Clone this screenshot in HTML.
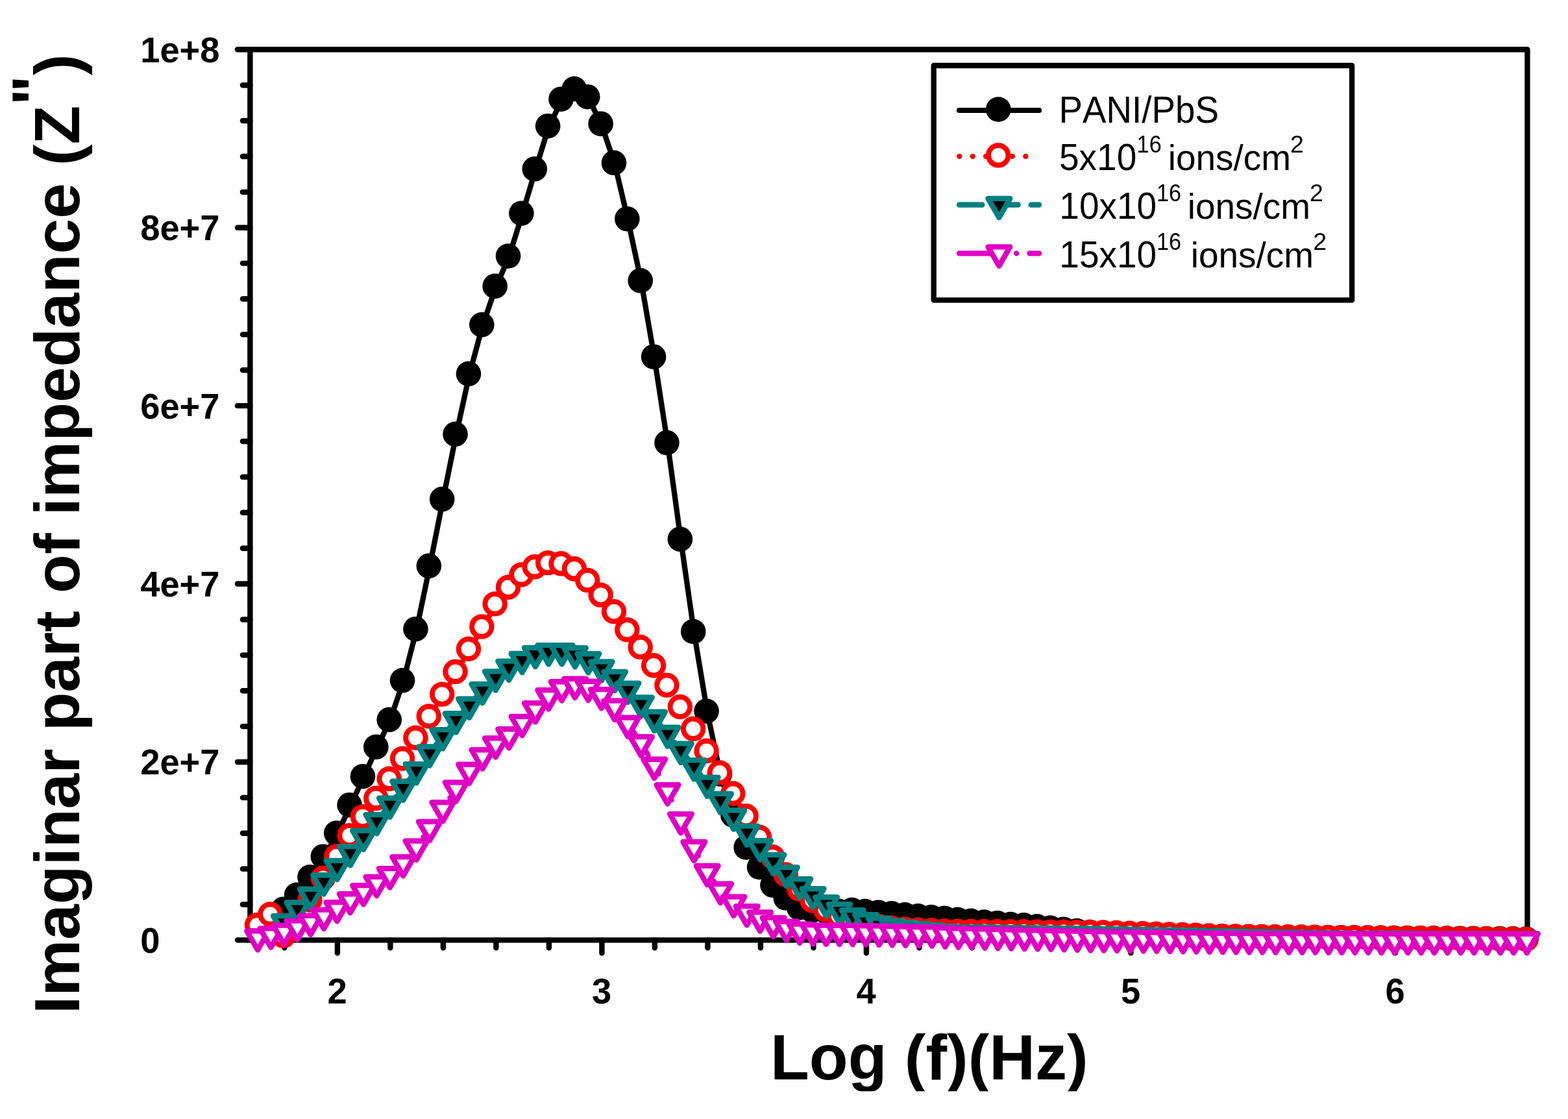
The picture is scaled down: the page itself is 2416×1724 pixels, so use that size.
<!DOCTYPE html>
<html lang="en">
<head>
<meta charset="utf-8">
<title>Imaginary part of impedance vs Log (f)</title>
<style>html,body{margin:0;padding:0;background:#fff}text{font-kerning:none;font-variant-ligatures:none;white-space:pre}body{width:2416px;height:1724px;overflow:hidden}svg{display:block}</style>
</head>
<body>
<svg width="2416" height="1724" viewBox="0 0 2416 1724" role="img" aria-label="Imaginary part of impedance versus Log (f)(Hz)">
<rect x="0" y="0" width="2416" height="1724" fill="#fff"/>
<g fill="none" stroke="#000" stroke-width="8.4" stroke-linecap="round" stroke-linejoin="round">
<path d="M385.4 76.3H2353.4V1448.4H385.4Z"/>
<path d="M365.9 1448.4H385.4M373.9 1393.52H385.4M373.9 1338.63H385.4M373.9 1283.75H385.4M373.9 1228.86H385.4M365.9 1173.98H385.4M373.9 1119.1H385.4M373.9 1064.21H385.4M373.9 1009.33H385.4M373.9 954.44H385.4M365.9 899.56H385.4M373.9 844.68H385.4M373.9 789.79H385.4M373.9 734.91H385.4M373.9 680.02H385.4M365.9 625.14H385.4M373.9 570.26H385.4M373.9 515.37H385.4M373.9 460.49H385.4M373.9 405.6H385.4M365.9 350.72H385.4M373.9 295.84H385.4M373.9 240.95H385.4M373.9 186.07H385.4M373.9 131.18H385.4M365.9 76.3H385.4M438.4 1448.4V1460.4M519.9 1448.4V1468.4M601.4 1448.4V1460.4M682.9 1448.4V1460.4M764.4 1448.4V1460.4M845.9 1448.4V1460.4M927.4 1448.4V1468.4M1008.9 1448.4V1460.4M1090.4 1448.4V1460.4M1171.9 1448.4V1460.4M1253.4 1448.4V1460.4M1334.9 1448.4V1468.4M1416.4 1448.4V1460.4M1497.9 1448.4V1460.4M1579.4 1448.4V1460.4M1660.9 1448.4V1460.4M1742.4 1448.4V1468.4M1823.9 1448.4V1460.4M1905.4 1448.4V1460.4M1986.9 1448.4V1460.4M2068.4 1448.4V1460.4M2149.9 1448.4V1468.4M2231.4 1448.4V1460.4M2312.9 1448.4V1460.4"/>
</g>
<g font-family="'Liberation Sans', Arial, Helvetica, sans-serif" fill="#000">
<text transform="translate(216.2 1467.8) scale(1.0 1.02)" font-size="54.3px" font-weight="bold">0</text>
<text transform="translate(216.2 1193.38) scale(1.0 1.02)" font-size="54.3px" font-weight="bold">2e+7</text>
<text transform="translate(216.2 918.96) scale(1.0 1.02)" font-size="54.3px" font-weight="bold">4e+7</text>
<text transform="translate(216.2 644.54) scale(1.0 1.02)" font-size="54.3px" font-weight="bold">6e+7</text>
<text transform="translate(216.2 370.12) scale(1.0 1.02)" font-size="54.3px" font-weight="bold">8e+7</text>
<text transform="translate(216.2 95.7) scale(1.0 1.02)" font-size="54.3px" font-weight="bold">1e+8</text>
<text transform="translate(519.6 1545.9) scale(1.0 1.02)" font-size="54.3px" font-weight="bold" text-anchor="middle">2</text>
<text transform="translate(927.1 1545.9) scale(1.0 1.02)" font-size="54.3px" font-weight="bold" text-anchor="middle">3</text>
<text transform="translate(1334.6 1545.9) scale(1.0 1.02)" font-size="54.3px" font-weight="bold" text-anchor="middle">4</text>
<text transform="translate(1742.1 1545.9) scale(1.0 1.02)" font-size="54.3px" font-weight="bold" text-anchor="middle">5</text>
<text transform="translate(2149.6 1545.9) scale(1.0 1.02)" font-size="54.3px" font-weight="bold" text-anchor="middle">6</text>
</g>
<clipPath id="cx"><rect x="1100" y="1560" width="700" height="121.2"/></clipPath>
<g font-family="'Liberation Sans', Arial, Helvetica, sans-serif" font-weight="bold" font-size="98px" fill="#000">
<g clip-path="url(#cx)"><text transform="translate(1187 1663.2) scale(1 1.01)">Log (f)(Hz)</text></g>
<text transform="translate(122.1 1562) rotate(-90)"><tspan>Imaginar part of impedance (Z</tspan><tspan dy="-35.4">&quot;</tspan><tspan dy="35.4">)</tspan></text>
</g>
<path d="M437.94 1402.2L458.31 1380.4L478.68 1352.9L499.05 1321.2L519.42 1285.1L539.79 1241.7L560.16 1197.7L580.53 1152.3L600.9 1110.3L621.27 1049.8L641.64 970.7L662.01 873.3L682.38 770.6L702.75 670.3L723.12 577.4L743.49 501.9L763.86 442.4L784.23 396L804.6 330.2L824.97 261.8L845.34 195.7L865.71 154.2L886.08 138.4L906.45 150.7L926.82 192.2L947.19 252.3L967.56 338.7L987.93 433.8L1008.3 551.2L1028.67 683.6L1049.04 832.2L1069.41 974.5L1089.78 1097.1L1110.15 1194L1130.52 1257.2L1150.89 1307L1171.26 1337.5L1191.63 1365.1L1212 1385L1232.37 1400L1252.74 1404L1273.11 1405L1293.48 1405.3L1313.85 1403.6L1334.22 1405.6L1354.59 1407.2L1374.96 1408.9L1395.33 1410.8L1415.7 1412.8L1436.07 1414.5L1456.44 1416.2L1476.81 1418.3L1497.18 1420.4L1517.55 1422L1537.92 1423.7L1558.29 1425.5L1578.66 1426.9L1599.03 1428.9L1619.4 1431.1L1639.77 1433.2L1660.14 1435.6L1680.51 1437.6L1700.88 1439.1L1721.25 1440.1L1741.62 1441.1L1761.99 1441.65L1782.36 1442.2L1802.73 1442.75L1823.1 1443.3L1843.47 1443.6L1863.84 1443.9L1884.21 1444.2L1904.58 1444.5L1924.95 1444.8L1945.32 1445.1L1965.69 1445.25L1986.06 1445.4L2006.43 1445.55L2026.8 1445.7L2047.17 1445.85L2067.54 1446L2087.91 1446.15L2108.28 1446.3L2128.65 1446.4L2149.02 1446.5L2169.39 1446.6L2189.76 1446.7L2210.13 1446.86L2230.5 1447.03L2250.87 1447.19L2271.24 1447.35L2291.61 1447.51L2311.98 1447.67L2332.35 1447.84L2352.72 1448" fill="none" stroke="#000000" stroke-width="8.3" stroke-linecap="round" stroke-linejoin="round"/>
<g fill="#000000"><circle cx="436.74" cy="1400.7" r="19.3"/><circle cx="457.11" cy="1378.9" r="19.3"/><circle cx="477.48" cy="1351.4" r="19.3"/><circle cx="497.85" cy="1319.7" r="19.3"/><circle cx="518.22" cy="1283.6" r="19.3"/><circle cx="538.59" cy="1240.2" r="19.3"/><circle cx="558.96" cy="1196.2" r="19.3"/><circle cx="579.33" cy="1150.8" r="19.3"/><circle cx="599.7" cy="1108.8" r="19.3"/><circle cx="620.07" cy="1048.3" r="19.3"/><circle cx="640.44" cy="969.2" r="19.3"/><circle cx="660.81" cy="871.8" r="19.3"/><circle cx="681.18" cy="769.1" r="19.3"/><circle cx="701.55" cy="668.8" r="19.3"/><circle cx="721.92" cy="575.9" r="19.3"/><circle cx="742.29" cy="500.4" r="19.3"/><circle cx="762.66" cy="440.9" r="19.3"/><circle cx="783.03" cy="394.5" r="19.3"/><circle cx="803.4" cy="328.7" r="19.3"/><circle cx="823.77" cy="260.3" r="19.3"/><circle cx="844.14" cy="194.2" r="19.3"/><circle cx="864.51" cy="152.7" r="19.3"/><circle cx="884.88" cy="136.9" r="19.3"/><circle cx="905.25" cy="149.2" r="19.3"/><circle cx="925.62" cy="190.7" r="19.3"/><circle cx="945.99" cy="250.8" r="19.3"/><circle cx="966.36" cy="337.2" r="19.3"/><circle cx="986.73" cy="432.3" r="19.3"/><circle cx="1007.1" cy="549.7" r="19.3"/><circle cx="1027.47" cy="682.1" r="19.3"/><circle cx="1047.84" cy="830.7" r="19.3"/><circle cx="1068.21" cy="973" r="19.3"/><circle cx="1088.58" cy="1095.6" r="19.3"/><circle cx="1108.95" cy="1192.5" r="19.3"/><circle cx="1129.32" cy="1255.7" r="19.3"/><circle cx="1149.69" cy="1305.5" r="19.3"/><circle cx="1170.06" cy="1336" r="19.3"/><circle cx="1190.43" cy="1363.6" r="19.3"/><circle cx="1210.8" cy="1383.5" r="19.3"/><circle cx="1231.17" cy="1398.5" r="19.3"/><circle cx="1251.54" cy="1402.5" r="19.3"/><circle cx="1271.91" cy="1403.5" r="19.3"/><circle cx="1292.28" cy="1403.8" r="19.3"/><circle cx="1312.65" cy="1402.1" r="19.3"/><circle cx="1333.02" cy="1404.1" r="19.3"/><circle cx="1353.39" cy="1405.7" r="19.3"/><circle cx="1373.76" cy="1407.4" r="19.3"/><circle cx="1394.13" cy="1409.3" r="19.3"/><circle cx="1414.5" cy="1411.3" r="19.3"/><circle cx="1434.87" cy="1413" r="19.3"/><circle cx="1455.24" cy="1414.7" r="19.3"/><circle cx="1475.61" cy="1416.8" r="19.3"/><circle cx="1495.98" cy="1418.9" r="19.3"/><circle cx="1516.35" cy="1420.5" r="19.3"/><circle cx="1536.72" cy="1422.2" r="19.3"/><circle cx="1557.09" cy="1424" r="19.3"/><circle cx="1577.46" cy="1425.4" r="19.3"/><circle cx="1597.83" cy="1427.4" r="19.3"/><circle cx="1618.2" cy="1429.6" r="19.3"/><circle cx="1638.57" cy="1431.7" r="19.3"/><circle cx="1658.94" cy="1434.1" r="19.3"/><circle cx="1679.31" cy="1436.1" r="19.3"/><circle cx="1699.68" cy="1437.6" r="19.3"/><circle cx="1720.05" cy="1438.6" r="19.3"/><circle cx="1740.42" cy="1439.6" r="19.3"/><circle cx="1760.79" cy="1440.15" r="19.3"/><circle cx="1781.16" cy="1440.7" r="19.3"/><circle cx="1801.53" cy="1441.25" r="19.3"/><circle cx="1821.9" cy="1441.8" r="19.3"/><circle cx="1842.27" cy="1442.1" r="19.3"/><circle cx="1862.64" cy="1442.4" r="19.3"/><circle cx="1883.01" cy="1442.7" r="19.3"/><circle cx="1903.38" cy="1443" r="19.3"/><circle cx="1923.75" cy="1443.3" r="19.3"/><circle cx="1944.12" cy="1443.6" r="19.3"/><circle cx="1964.49" cy="1443.75" r="19.3"/><circle cx="1984.86" cy="1443.9" r="19.3"/><circle cx="2005.23" cy="1444.05" r="19.3"/><circle cx="2025.6" cy="1444.2" r="19.3"/><circle cx="2045.97" cy="1444.35" r="19.3"/><circle cx="2066.34" cy="1444.5" r="19.3"/><circle cx="2086.71" cy="1444.65" r="19.3"/><circle cx="2107.08" cy="1444.8" r="19.3"/><circle cx="2127.45" cy="1444.9" r="19.3"/><circle cx="2147.82" cy="1445" r="19.3"/><circle cx="2168.19" cy="1445.1" r="19.3"/><circle cx="2188.56" cy="1445.2" r="19.3"/><circle cx="2208.93" cy="1445.36" r="19.3"/><circle cx="2229.3" cy="1445.53" r="19.3"/><circle cx="2249.67" cy="1445.69" r="19.3"/><circle cx="2270.04" cy="1445.85" r="19.3"/><circle cx="2290.41" cy="1446.01" r="19.3"/><circle cx="2310.78" cy="1446.17" r="19.3"/><circle cx="2331.15" cy="1446.34" r="19.3"/><circle cx="2351.52" cy="1446.5" r="19.3"/></g>
<path d="M397.2 1426.8L417.57 1410L437.94 1443.2L458.31 1421.5L478.68 1388L499.05 1354.3L519.42 1320.9L539.79 1288.6L560.16 1259.6L580.53 1231.3L600.9 1201.3L621.27 1170.1L641.64 1138.2L662.01 1105L682.38 1071.1L702.75 1036.3L723.12 1001.3L743.49 966.9L763.86 931.9L784.23 906.2L804.6 886.9L824.97 874.8L845.34 868.6L865.71 869.8L886.08 877.8L906.45 895.4L926.82 918.1L947.19 943.6L967.56 971.7L987.93 998.4L1008.3 1026.7L1028.67 1057.1L1049.04 1090.5L1069.41 1124.3L1089.78 1158.3L1110.15 1191.9L1130.52 1224L1150.89 1258.8L1171.26 1291.3L1191.63 1321.7L1212 1348.9L1232.37 1371.1L1252.74 1388.8L1273.11 1403.1L1293.48 1413L1313.85 1420L1334.22 1425L1354.59 1428.5L1374.96 1431.3L1395.33 1432.6L1415.7 1433.9L1436.07 1434.8L1456.44 1435.7L1476.81 1436.1L1497.18 1436.24L1517.55 1436.38L1537.92 1436.52L1558.29 1436.66L1578.66 1436.8L1599.03 1436.94L1619.4 1437.08L1639.77 1437.22L1660.14 1437.36L1680.51 1437.5L1700.88 1437.9L1721.25 1438.5L1741.62 1439.1L1761.99 1439.7L1782.36 1440.3L1802.73 1440.9L1823.1 1441.5L1843.47 1442.2L1863.84 1442.9L1884.21 1443.6L1904.58 1444L1924.95 1444.2L1945.32 1444.4L1965.69 1444.6L1986.06 1444.8L2006.43 1445L2026.8 1445.2L2047.17 1445.4L2067.54 1445.6L2087.91 1445.8L2108.28 1446L2128.65 1446.2L2149.02 1446.4L2169.39 1446.6L2189.76 1446.8L2210.13 1447L2230.5 1447.2L2250.87 1447.4L2271.24 1447.6L2291.61 1447.8L2311.98 1448L2332.35 1448.2L2352.72 1448.4" fill="none" stroke="#ff0000" stroke-width="8.3" stroke-linecap="round" stroke-linejoin="round" stroke-dasharray="0.01 20.4"/>
<g fill="#fff" stroke="#ff0000" stroke-width="7.9"><circle cx="396" cy="1425.3" r="15.25"/><circle cx="416.37" cy="1408.5" r="15.25"/><circle cx="436.74" cy="1441.7" r="15.25"/><circle cx="457.11" cy="1420" r="15.25"/><circle cx="477.48" cy="1386.5" r="15.25"/><circle cx="497.85" cy="1352.8" r="15.25"/><circle cx="518.22" cy="1319.4" r="15.25"/><circle cx="538.59" cy="1287.1" r="15.25"/><circle cx="558.96" cy="1258.1" r="15.25"/><circle cx="579.33" cy="1229.8" r="15.25"/><circle cx="599.7" cy="1199.8" r="15.25"/><circle cx="620.07" cy="1168.6" r="15.25"/><circle cx="640.44" cy="1136.7" r="15.25"/><circle cx="660.81" cy="1103.5" r="15.25"/><circle cx="681.18" cy="1069.6" r="15.25"/><circle cx="701.55" cy="1034.8" r="15.25"/><circle cx="721.92" cy="999.8" r="15.25"/><circle cx="742.29" cy="965.4" r="15.25"/><circle cx="762.66" cy="930.4" r="15.25"/><circle cx="783.03" cy="904.7" r="15.25"/><circle cx="803.4" cy="885.4" r="15.25"/><circle cx="823.77" cy="873.3" r="15.25"/><circle cx="844.14" cy="867.1" r="15.25"/><circle cx="864.51" cy="868.3" r="15.25"/><circle cx="884.88" cy="876.3" r="15.25"/><circle cx="905.25" cy="893.9" r="15.25"/><circle cx="925.62" cy="916.6" r="15.25"/><circle cx="945.99" cy="942.1" r="15.25"/><circle cx="966.36" cy="970.2" r="15.25"/><circle cx="986.73" cy="996.9" r="15.25"/><circle cx="1007.1" cy="1025.2" r="15.25"/><circle cx="1027.47" cy="1055.6" r="15.25"/><circle cx="1047.84" cy="1089" r="15.25"/><circle cx="1068.21" cy="1122.8" r="15.25"/><circle cx="1088.58" cy="1156.8" r="15.25"/><circle cx="1108.95" cy="1190.4" r="15.25"/><circle cx="1129.32" cy="1222.5" r="15.25"/><circle cx="1149.69" cy="1257.3" r="15.25"/><circle cx="1170.06" cy="1289.8" r="15.25"/><circle cx="1190.43" cy="1320.2" r="15.25"/><circle cx="1210.8" cy="1347.4" r="15.25"/><circle cx="1231.17" cy="1369.6" r="15.25"/><circle cx="1251.54" cy="1387.3" r="15.25"/><circle cx="1271.91" cy="1401.6" r="15.25"/><circle cx="1292.28" cy="1411.5" r="15.25"/><circle cx="1312.65" cy="1418.5" r="15.25"/><circle cx="1333.02" cy="1423.5" r="15.25"/><circle cx="1353.39" cy="1427" r="15.25"/><circle cx="1373.76" cy="1429.8" r="15.25"/><circle cx="1394.13" cy="1431.1" r="15.25"/><circle cx="1414.5" cy="1432.4" r="15.25"/><circle cx="1434.87" cy="1433.3" r="15.25"/><circle cx="1455.24" cy="1434.2" r="15.25"/><circle cx="1475.61" cy="1434.6" r="15.25"/><circle cx="1495.98" cy="1434.74" r="15.25"/><circle cx="1516.35" cy="1434.88" r="15.25"/><circle cx="1536.72" cy="1435.02" r="15.25"/><circle cx="1557.09" cy="1435.16" r="15.25"/><circle cx="1577.46" cy="1435.3" r="15.25"/><circle cx="1597.83" cy="1435.44" r="15.25"/><circle cx="1618.2" cy="1435.58" r="15.25"/><circle cx="1638.57" cy="1435.72" r="15.25"/><circle cx="1658.94" cy="1435.86" r="15.25"/><circle cx="1679.31" cy="1436" r="15.25"/><circle cx="1699.68" cy="1436.4" r="15.25"/><circle cx="1720.05" cy="1437" r="15.25"/><circle cx="1740.42" cy="1437.6" r="15.25"/><circle cx="1760.79" cy="1438.2" r="15.25"/><circle cx="1781.16" cy="1438.8" r="15.25"/><circle cx="1801.53" cy="1439.4" r="15.25"/><circle cx="1821.9" cy="1440" r="15.25"/><circle cx="1842.27" cy="1440.7" r="15.25"/><circle cx="1862.64" cy="1441.4" r="15.25"/><circle cx="1883.01" cy="1442.1" r="15.25"/><circle cx="1903.38" cy="1442.5" r="15.25"/><circle cx="1923.75" cy="1442.7" r="15.25"/><circle cx="1944.12" cy="1442.9" r="15.25"/><circle cx="1964.49" cy="1443.1" r="15.25"/><circle cx="1984.86" cy="1443.3" r="15.25"/><circle cx="2005.23" cy="1443.5" r="15.25"/><circle cx="2025.6" cy="1443.7" r="15.25"/><circle cx="2045.97" cy="1443.9" r="15.25"/><circle cx="2066.34" cy="1444.1" r="15.25"/><circle cx="2086.71" cy="1444.3" r="15.25"/><circle cx="2107.08" cy="1444.5" r="15.25"/><circle cx="2127.45" cy="1444.7" r="15.25"/><circle cx="2147.82" cy="1444.9" r="15.25"/><circle cx="2168.19" cy="1445.1" r="15.25"/><circle cx="2188.56" cy="1445.3" r="15.25"/><circle cx="2208.93" cy="1445.5" r="15.25"/><circle cx="2229.3" cy="1445.7" r="15.25"/><circle cx="2249.67" cy="1445.9" r="15.25"/><circle cx="2270.04" cy="1446.1" r="15.25"/><circle cx="2290.41" cy="1446.3" r="15.25"/><circle cx="2310.78" cy="1446.5" r="15.25"/><circle cx="2331.15" cy="1446.7" r="15.25"/><circle cx="2351.52" cy="1446.9" r="15.25"/></g>
<path d="M437.84 1420.8L458.21 1400.2L478.58 1379.5L498.95 1358L519.32 1335.6L539.69 1313.8L560.06 1289.4L580.43 1264.8L600.8 1239.3L621.17 1213.5L641.54 1186.9L661.91 1160.2L682.28 1133.9L702.65 1108.9L723.02 1086.3L743.39 1063.6L763.76 1044.1L784.13 1028.3L804.5 1016.7L824.87 1007.7L845.24 1003.8L865.61 1003.8L885.98 1008L906.35 1017L926.72 1029.1L947.09 1044.6L967.46 1062.5L987.83 1084.1L1008.2 1106.4L1028.57 1130.3L1048.94 1155.4L1069.31 1180.9L1089.68 1207.3L1110.05 1232.7L1130.42 1258.2L1150.79 1282.4L1171.16 1305L1191.53 1326.7L1211.9 1346L1232.27 1364L1252.64 1379L1273.01 1392L1293.38 1402.8L1313.75 1411.9L1334.12 1419L1354.49 1424.3L1374.86 1428.3L1395.23 1431L1415.6 1433L1435.97 1434.6L1456.34 1437L1476.71 1438L1497.08 1438.25L1517.45 1438.5L1537.82 1438.75L1558.19 1439L1578.56 1439.25L1598.93 1439.5L1619.3 1439.75L1639.67 1440L1660.04 1440.25L1680.41 1440.5L1700.78 1440.86L1721.15 1441.23L1741.52 1441.59L1761.89 1441.95L1782.26 1442.32L1802.63 1442.68L1823 1443.05L1843.37 1443.41L1863.74 1443.77L1884.11 1444.14L1904.48 1444.5L1924.85 1444.88L1945.22 1445.25L1965.59 1445.62L1985.96 1446L2006.33 1446.38L2026.7 1446.75L2047.07 1447.12L2067.44 1447.5L2087.81 1447.55L2108.18 1447.6L2128.55 1447.65L2148.92 1447.7L2169.29 1447.75L2189.66 1447.8L2210.03 1447.85L2230.4 1447.9L2250.77 1447.95L2271.14 1448L2291.51 1448.05L2311.88 1448.1L2332.25 1448.15L2352.62 1448.2" fill="none" stroke="#008080" stroke-width="8.3" stroke-linecap="round" stroke-linejoin="round" stroke-dasharray="35.7 20.3"/>
<g fill="#000" stroke="#008080" stroke-width="8.3" stroke-linejoin="round"><path d="M420.94 1411.04h33.8L437.84 1440.31Z"/><path d="M441.31 1390.44h33.8L458.21 1419.71Z"/><path d="M461.68 1369.74h33.8L478.58 1399.01Z"/><path d="M482.05 1348.24h33.8L498.95 1377.51Z"/><path d="M502.42 1325.84h33.8L519.32 1355.11Z"/><path d="M522.79 1304.04h33.8L539.69 1333.31Z"/><path d="M543.16 1279.64h33.8L560.06 1308.91Z"/><path d="M563.53 1255.04h33.8L580.43 1284.31Z"/><path d="M583.9 1229.54h33.8L600.8 1258.81Z"/><path d="M604.27 1203.74h33.8L621.17 1233.01Z"/><path d="M624.64 1177.14h33.8L641.54 1206.41Z"/><path d="M645.01 1150.44h33.8L661.91 1179.71Z"/><path d="M665.38 1124.14h33.8L682.28 1153.41Z"/><path d="M685.75 1099.14h33.8L702.65 1128.41Z"/><path d="M706.12 1076.54h33.8L723.02 1105.81Z"/><path d="M726.49 1053.84h33.8L743.39 1083.11Z"/><path d="M746.86 1034.34h33.8L763.76 1063.61Z"/><path d="M767.23 1018.54h33.8L784.13 1047.81Z"/><path d="M787.6 1006.94h33.8L804.5 1036.21Z"/><path d="M807.97 997.94h33.8L824.87 1027.21Z"/><path d="M828.34 994.04h33.8L845.24 1023.31Z"/><path d="M848.71 994.04h33.8L865.61 1023.31Z"/><path d="M869.08 998.24h33.8L885.98 1027.51Z"/><path d="M889.45 1007.24h33.8L906.35 1036.51Z"/><path d="M909.82 1019.34h33.8L926.72 1048.61Z"/><path d="M930.19 1034.84h33.8L947.09 1064.11Z"/><path d="M950.56 1052.74h33.8L967.46 1082.01Z"/><path d="M970.93 1074.34h33.8L987.83 1103.61Z"/><path d="M991.3 1096.64h33.8L1008.2 1125.91Z"/><path d="M1011.67 1120.54h33.8L1028.57 1149.81Z"/><path d="M1032.04 1145.64h33.8L1048.94 1174.91Z"/><path d="M1052.41 1171.14h33.8L1069.31 1200.41Z"/><path d="M1072.78 1197.54h33.8L1089.68 1226.81Z"/><path d="M1093.15 1222.94h33.8L1110.05 1252.21Z"/><path d="M1113.52 1248.44h33.8L1130.42 1277.71Z"/><path d="M1133.89 1272.64h33.8L1150.79 1301.91Z"/><path d="M1154.26 1295.24h33.8L1171.16 1324.51Z"/><path d="M1174.63 1316.94h33.8L1191.53 1346.21Z"/><path d="M1195 1336.24h33.8L1211.9 1365.51Z"/><path d="M1215.37 1354.24h33.8L1232.27 1383.51Z"/><path d="M1235.74 1369.24h33.8L1252.64 1398.51Z"/><path d="M1256.11 1382.24h33.8L1273.01 1411.51Z"/><path d="M1276.48 1393.04h33.8L1293.38 1422.31Z"/><path d="M1296.85 1402.14h33.8L1313.75 1431.41Z"/><path d="M1317.22 1409.24h33.8L1334.12 1438.51Z"/><path d="M1337.59 1414.54h33.8L1354.49 1443.81Z"/><path d="M1357.96 1418.54h33.8L1374.86 1447.81Z"/><path d="M1378.33 1421.24h33.8L1395.23 1450.51Z"/><path d="M1398.7 1423.24h33.8L1415.6 1452.51Z"/><path d="M1419.07 1424.84h33.8L1435.97 1454.11Z"/><path d="M1439.44 1427.24h33.8L1456.34 1456.51Z"/><path d="M1459.81 1428.24h33.8L1476.71 1457.51Z"/><path d="M1480.18 1428.49h33.8L1497.08 1457.76Z"/><path d="M1500.55 1428.74h33.8L1517.45 1458.01Z"/><path d="M1520.92 1428.99h33.8L1537.82 1458.26Z"/><path d="M1541.29 1429.24h33.8L1558.19 1458.51Z"/><path d="M1561.66 1429.49h33.8L1578.56 1458.76Z"/><path d="M1582.03 1429.74h33.8L1598.93 1459.01Z"/><path d="M1602.4 1429.99h33.8L1619.3 1459.26Z"/><path d="M1622.77 1430.24h33.8L1639.67 1459.51Z"/><path d="M1643.14 1430.49h33.8L1660.04 1459.76Z"/><path d="M1663.51 1430.74h33.8L1680.41 1460.01Z"/><path d="M1683.88 1431.11h33.8L1700.78 1460.38Z"/><path d="M1704.25 1431.47h33.8L1721.15 1460.74Z"/><path d="M1724.62 1431.83h33.8L1741.52 1461.11Z"/><path d="M1744.99 1432.2h33.8L1761.89 1461.47Z"/><path d="M1765.36 1432.56h33.8L1782.26 1461.83Z"/><path d="M1785.73 1432.92h33.8L1802.63 1462.2Z"/><path d="M1806.1 1433.29h33.8L1823 1462.56Z"/><path d="M1826.47 1433.65h33.8L1843.37 1462.92Z"/><path d="M1846.84 1434.02h33.8L1863.74 1463.29Z"/><path d="M1867.21 1434.38h33.8L1884.11 1463.65Z"/><path d="M1887.58 1434.74h33.8L1904.48 1464.01Z"/><path d="M1907.95 1435.12h33.8L1924.85 1464.39Z"/><path d="M1928.32 1435.49h33.8L1945.22 1464.76Z"/><path d="M1948.69 1435.87h33.8L1965.59 1465.14Z"/><path d="M1969.06 1436.24h33.8L1985.96 1465.51Z"/><path d="M1989.43 1436.62h33.8L2006.33 1465.89Z"/><path d="M2009.8 1436.99h33.8L2026.7 1466.26Z"/><path d="M2030.17 1437.37h33.8L2047.07 1466.64Z"/><path d="M2050.54 1437.74h33.8L2067.44 1467.01Z"/><path d="M2070.91 1437.79h33.8L2087.81 1467.06Z"/><path d="M2091.28 1437.84h33.8L2108.18 1467.11Z"/><path d="M2111.65 1437.89h33.8L2128.55 1467.16Z"/><path d="M2132.02 1437.94h33.8L2148.92 1467.21Z"/><path d="M2152.39 1437.99h33.8L2169.29 1467.26Z"/><path d="M2172.76 1438.04h33.8L2189.66 1467.31Z"/><path d="M2193.13 1438.09h33.8L2210.03 1467.36Z"/><path d="M2213.5 1438.14h33.8L2230.4 1467.41Z"/><path d="M2233.87 1438.19h33.8L2250.77 1467.46Z"/><path d="M2254.24 1438.24h33.8L2271.14 1467.51Z"/><path d="M2274.61 1438.29h33.8L2291.51 1467.56Z"/><path d="M2294.98 1438.34h33.8L2311.88 1467.61Z"/><path d="M2315.35 1438.39h33.8L2332.25 1467.66Z"/><path d="M2335.72 1438.44h33.8L2352.62 1467.71Z"/></g>
<path d="M959.44 1105.17L967.46 1115.4L987.83 1144.9L998.48 1163M1014.75 1192.21h0.01M1034.57 1232.2h0.01M1044.39 1253.79L1048.94 1263.8L1069.31 1306.6L1075.81 1318.43M1100 1357.79h0.01M693.31 1229.23h0.01M652.31 1289.65h0.01" fill="none" stroke="#e000c4" stroke-width="8.3" stroke-linecap="round" stroke-linejoin="round"/>
<g fill="#fff" stroke="#e000c4" stroke-width="8.3" stroke-linejoin="round"><path d="M380.2 1434.24h33.8L397.1 1463.51Z"/><path d="M400.57 1430.34h33.8L417.47 1459.61Z"/><path d="M420.94 1425.64h33.8L437.84 1454.91Z"/><path d="M441.31 1418.54h33.8L458.21 1447.81Z"/><path d="M461.68 1410.64h33.8L478.58 1439.91Z"/><path d="M482.05 1401.54h33.8L498.95 1430.81Z"/><path d="M502.42 1390.14h33.8L519.32 1419.41Z"/><path d="M522.79 1377.24h33.8L539.69 1406.51Z"/><path d="M543.16 1364.14h33.8L560.06 1393.41Z"/><path d="M563.53 1350.94h33.8L580.43 1380.21Z"/><path d="M583.9 1338.14h33.8L600.8 1367.41Z"/><path d="M604.27 1320.14h33.8L621.17 1349.41Z"/><path d="M624.64 1295.54h33.8L641.54 1324.81Z"/><path d="M645.01 1265.94h33.8L661.91 1295.21Z"/><path d="M665.38 1236.04h33.8L682.28 1265.31Z"/><path d="M685.75 1205.44h33.8L702.65 1234.71Z"/><path d="M706.12 1177.74h33.8L723.02 1207.01Z"/><path d="M726.49 1155.24h33.8L743.39 1184.51Z"/><path d="M746.86 1137.24h33.8L763.76 1166.51Z"/><path d="M767.23 1123.24h33.8L784.13 1152.51Z"/><path d="M787.6 1103.94h33.8L804.5 1133.21Z"/><path d="M807.97 1083.14h33.8L824.87 1112.41Z"/><path d="M828.34 1063.14h33.8L845.24 1092.41Z"/><path d="M848.71 1050.24h33.8L865.61 1079.51Z"/><path d="M869.08 1045.74h33.8L885.98 1075.01Z"/><path d="M889.45 1049.74h33.8L906.35 1079.01Z"/><path d="M909.82 1062.04h33.8L926.72 1091.31Z"/><path d="M930.19 1079.64h33.8L947.09 1108.91Z"/><path d="M950.56 1105.64h33.8L967.46 1134.91Z"/><path d="M970.93 1135.14h33.8L987.83 1164.41Z"/><path d="M991.3 1169.74h33.8L1008.2 1199.01Z"/><path d="M1011.67 1209.24h33.8L1028.57 1238.51Z"/><path d="M1032.04 1254.04h33.8L1048.94 1283.31Z"/><path d="M1052.41 1296.84h33.8L1069.31 1326.11Z"/><path d="M1072.78 1333.94h33.8L1089.68 1363.21Z"/><path d="M1093.15 1361.74h33.8L1110.05 1391.01Z"/><path d="M1113.52 1381.54h33.8L1130.42 1410.81Z"/><path d="M1133.89 1396.14h33.8L1150.79 1425.41Z"/><path d="M1154.26 1405.34h33.8L1171.16 1434.61Z"/><path d="M1174.63 1413.84h33.8L1191.53 1443.11Z"/><path d="M1195 1419.54h33.8L1211.9 1448.81Z"/><path d="M1215.37 1423.54h33.8L1232.27 1452.81Z"/><path d="M1235.74 1425.04h33.8L1252.64 1454.31Z"/><path d="M1256.11 1425.54h33.8L1273.01 1454.81Z"/><path d="M1276.48 1425.74h33.8L1293.38 1455.01Z"/><path d="M1296.85 1425.94h33.8L1313.75 1455.21Z"/><path d="M1317.22 1426.24h33.8L1334.12 1455.51Z"/><path d="M1337.59 1426.54h33.8L1354.49 1455.81Z"/><path d="M1357.96 1427.14h33.8L1374.86 1456.41Z"/><path d="M1378.33 1427.64h33.8L1395.23 1456.91Z"/><path d="M1398.7 1428.14h33.8L1415.6 1457.41Z"/><path d="M1419.07 1428.44h33.8L1435.97 1457.71Z"/><path d="M1439.44 1429.54h33.8L1456.34 1458.81Z"/><path d="M1459.81 1430.44h33.8L1476.71 1459.71Z"/><path d="M1480.18 1430.91h33.8L1497.08 1460.18Z"/><path d="M1500.55 1431.38h33.8L1517.45 1460.65Z"/><path d="M1520.92 1431.85h33.8L1537.82 1461.12Z"/><path d="M1541.29 1432.32h33.8L1558.19 1461.59Z"/><path d="M1561.66 1432.79h33.8L1578.56 1462.06Z"/><path d="M1582.03 1433.26h33.8L1598.93 1462.53Z"/><path d="M1602.4 1433.73h33.8L1619.3 1463Z"/><path d="M1622.77 1434.2h33.8L1639.67 1463.47Z"/><path d="M1643.14 1434.67h33.8L1660.04 1463.94Z"/><path d="M1663.51 1435.14h33.8L1680.41 1464.41Z"/><path d="M1683.88 1435.42h33.8L1700.78 1464.69Z"/><path d="M1704.25 1435.69h33.8L1721.15 1464.96Z"/><path d="M1724.62 1435.96h33.8L1741.52 1465.23Z"/><path d="M1744.99 1436.23h33.8L1761.89 1465.51Z"/><path d="M1765.36 1436.51h33.8L1782.26 1465.78Z"/><path d="M1785.73 1436.78h33.8L1802.63 1466.05Z"/><path d="M1806.1 1437.05h33.8L1823 1466.32Z"/><path d="M1826.47 1437.32h33.8L1843.37 1466.6Z"/><path d="M1846.84 1437.6h33.8L1863.74 1466.87Z"/><path d="M1867.21 1437.87h33.8L1884.11 1467.14Z"/><path d="M1887.58 1438.14h33.8L1904.48 1467.41Z"/><path d="M1907.95 1438.2h33.8L1924.85 1467.47Z"/><path d="M1928.32 1438.26h33.8L1945.22 1467.53Z"/><path d="M1948.69 1438.32h33.8L1965.59 1467.59Z"/><path d="M1969.06 1438.38h33.8L1985.96 1467.65Z"/><path d="M1989.43 1438.43h33.8L2006.33 1467.71Z"/><path d="M2009.8 1438.49h33.8L2026.7 1467.76Z"/><path d="M2030.17 1438.55h33.8L2047.07 1467.82Z"/><path d="M2050.54 1438.61h33.8L2067.44 1467.88Z"/><path d="M2070.91 1438.67h33.8L2087.81 1467.94Z"/><path d="M2091.28 1438.73h33.8L2108.18 1468Z"/><path d="M2111.65 1438.78h33.8L2128.55 1468.06Z"/><path d="M2132.02 1438.84h33.8L2148.92 1468.11Z"/><path d="M2152.39 1438.85h33.8L2169.29 1468.12Z"/><path d="M2172.76 1438.86h33.8L2189.66 1468.13Z"/><path d="M2193.13 1438.87h33.8L2210.03 1468.14Z"/><path d="M2213.5 1438.88h33.8L2230.4 1468.15Z"/><path d="M2233.87 1438.89h33.8L2250.77 1468.16Z"/><path d="M2254.24 1438.9h33.8L2271.14 1468.17Z"/><path d="M2274.61 1438.91h33.8L2291.51 1468.18Z"/><path d="M2294.98 1438.92h33.8L2311.88 1468.19Z"/><path d="M2315.35 1438.93h33.8L2332.25 1468.2Z"/><path d="M2335.72 1438.94h33.8L2352.62 1468.21Z"/></g>
<rect x="1438.7" y="101" width="644.4" height="361.4" fill="#fff" stroke="#000" stroke-width="8.3" stroke-linejoin="round"/>
<path d="M1478 170H1601" stroke="#000000" stroke-width="8.2" stroke-linecap="round" fill="none"/>
<circle cx="1538.25" cy="168.5" r="19.3" fill="#000000"/>
<path d="M1478.3 240.9H1585" stroke="#ff0000" stroke-width="8.4" stroke-linecap="round" stroke-dasharray="0.01 20.4" fill="none"/>
<circle cx="1538.25" cy="239.3" r="15.25" fill="#fff" stroke="#ff0000" stroke-width="7.9"/>
<path d="M1478 315.5H1601" stroke="#008080" stroke-width="8.4" stroke-linecap="round" stroke-dasharray="35.3 20.1" fill="none"/>
<path d="M1522.5 305.91h33.8L1539.4 335.18Z" fill="#000" stroke="#008080" stroke-width="8.3" stroke-linejoin="round"/>
<path d="M1478 390.4H1601" stroke="#e000c4" stroke-width="8.4" stroke-linecap="round" stroke-dasharray="67.9 20.3 0.01 20.3" fill="none"/>
<path d="M1522.5 380.44h33.8L1539.4 409.71Z" fill="#fff" stroke="#e000c4" stroke-width="8.3" stroke-linejoin="round"/>
<g font-family="'Liberation Sans', Arial, Helvetica, sans-serif" fill="#000">
<text transform="translate(1631.6 188.9) scale(0.995 1.03)" font-size="55px">PANI/PbS</text>
<text transform="translate(1632 261.8) scale(1.0 1.03)" font-size="55px">5x10</text><text transform="translate(1751.6 235) scale(0.96 1.03)" font-size="35.75px">16</text><text transform="translate(1799.7 261.8) scale(1.0 1.02)" font-size="55px">ions/cm</text><text transform="translate(1988 234.9) scale(1.05 1.03)" font-size="35.75px">2</text>
<text transform="translate(1632.3 336.7) scale(1.0 1.03)" font-size="55px">10x10</text><text transform="translate(1782 309.9) scale(0.96 1.03)" font-size="35.75px">16</text><text transform="translate(1829.7 336.7) scale(1.0 1.02)" font-size="55px">ions/cm</text><text transform="translate(2018 309.8) scale(1.05 1.03)" font-size="35.75px">2</text>
<text transform="translate(1632.3 411.7) scale(1.0 1.03)" font-size="55px">15x10</text><text transform="translate(1782 384.9) scale(0.96 1.03)" font-size="35.75px">16</text><text transform="translate(1834.7 411.7) scale(1.0 1.02)" font-size="55px">ions/cm</text><text transform="translate(2023.2 384.8) scale(1.05 1.03)" font-size="35.75px">2</text>
</g>
</svg>
</body>
</html>
